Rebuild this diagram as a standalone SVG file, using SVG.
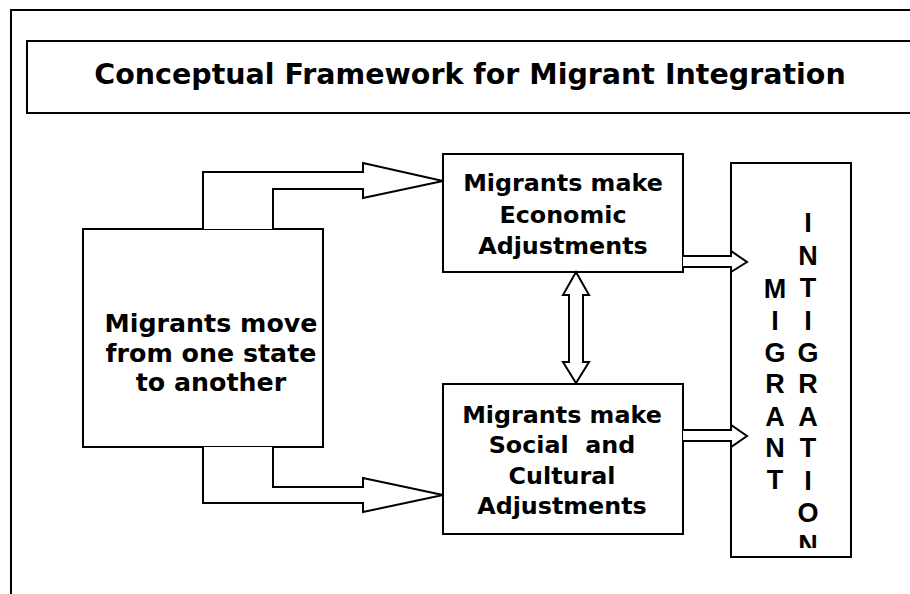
<svg xmlns="http://www.w3.org/2000/svg" width="910" height="594" viewBox="0 0 910 594">
<defs>
<style>
.ln{fill:none;stroke:#000;stroke-width:2}
.bx{fill:#fff;stroke:#000;stroke-width:2}
.t{font-family:"DejaVu Sans",Verdana,sans-serif;font-weight:bold;fill:#000;text-anchor:middle;white-space:pre}
.v{font-family:"Liberation Sans",Arial,sans-serif;font-weight:bold;font-size:27px;fill:#000;text-anchor:middle}
</style>
<clipPath id="clipInt"><rect x="732" y="164" width="118" height="384"/></clipPath>
</defs>
<rect width="910" height="594" fill="#fff"/>
<path class="ln" d="M11,594 V10 H910"/>
<g id="title">
<path class="ln" d="M910,41 H27 V113 H910"/>
<text class="t" x="470" y="84" font-size="28.5">Conceptual Framework for Migrant Integration</text>
</g>
<g id="move">
<rect class="bx" x="83" y="229" width="240" height="218"/>
<text class="t" font-size="25.3"><tspan x="211" y="332">Migrants move</tspan><tspan x="211" y="362">from one state</tspan><tspan x="211" y="391">to another</tspan></text>
</g>
<g id="economic">
<rect class="bx" x="443" y="154" width="240" height="118"/>
<text class="t" font-size="23.8"><tspan x="563" y="191">Migrants make</tspan><tspan x="563" y="223">Economic</tspan><tspan x="563" y="254">Adjustments</tspan></text>
</g>
<g id="social">
<rect class="bx" x="443" y="384" width="240" height="150"/>
<text class="t" font-size="23.8"><tspan x="562" y="423">Migrants make</tspan><tspan x="562" y="453">Social  and</tspan><tspan x="562" y="484">Cultural</tspan><tspan x="562" y="514">Adjustments</tspan></text>
</g>
<g id="integration">
<rect class="bx" x="731" y="163" width="120" height="394"/>
<text class="v"><tspan x="775" y="298">M</tspan><tspan x="775" y="330">I</tspan><tspan x="775" y="362">G</tspan><tspan x="775" y="393">R</tspan><tspan x="775" y="426">A</tspan><tspan x="775" y="457">N</tspan><tspan x="775" y="489">T</tspan></text>
<text class="v" clip-path="url(#clipInt)"><tspan x="808" y="232">I</tspan><tspan x="808" y="265">N</tspan><tspan x="808" y="297">T</tspan><tspan x="808" y="330">I</tspan><tspan x="808" y="362">G</tspan><tspan x="808" y="393">R</tspan><tspan x="808" y="426">A</tspan><tspan x="808" y="457">T</tspan><tspan x="808" y="490">I</tspan><tspan x="808" y="522">O</tspan><tspan x="808" y="554">N</tspan></text>
</g>
<g id="connectors">
<path class="bx" d="M203,229 V172 H363 V163 L443,181 L363,198 V189 H273 V229"/>
<path class="bx" d="M203,447 V503 H363 V512 L443,495 L363,478 V487 H273 V447"/>
<path class="bx" d="M683,256 H731 V251 L747,262 L731,272 V267 H683"/>
<path class="bx" d="M683,430 H731 V425 L747,436 L731,447 V441 H683"/>
<polygon class="bx" points="576,272 589,295 583,295 583,362 589,362 576,383 563,362 569,362 569,295 563,295"/>
</g>
</svg>
